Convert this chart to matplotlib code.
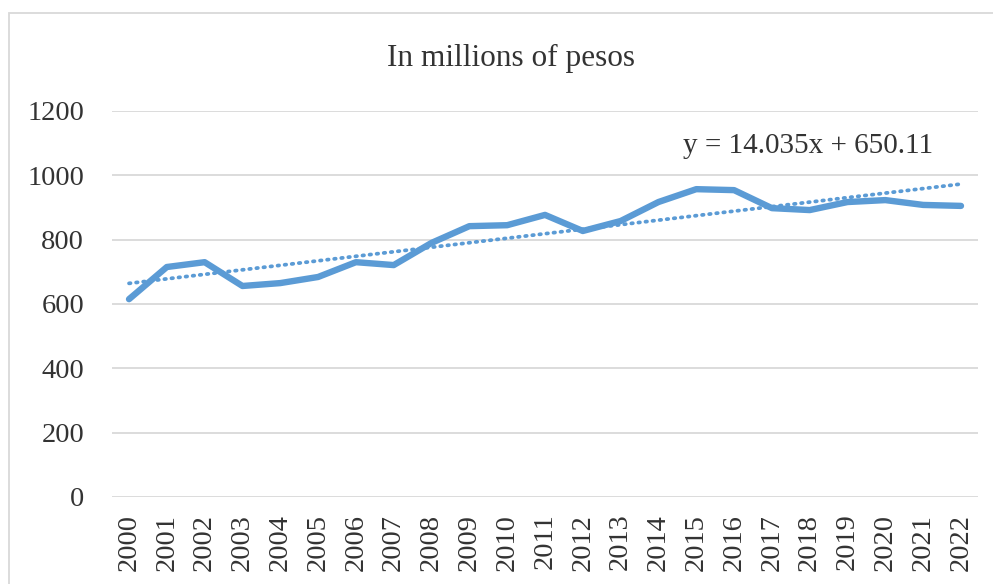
import matplotlib.pyplot as plt
import numpy as np
from matplotlib.patches import Rectangle

plt.rcParams['font.family'] = ['Liberation Serif', 'DejaVu Serif']

years = [str(y) for y in range(2000, 2023)]
values = [615, 715, 730, 656, 665, 684, 730, 721, 790, 842, 845, 877,
          827, 858, 917, 957, 954, 898, 892, 917, 923, 908, 905]
trend_slope = 14.035
trend_intercept = 650.11
title = "In millions of pesos"
yticks = [0, 200, 400, 600, 800, 1000, 1200]

BLUE = "#5B9BD5"
TXT = "#333333"

fig = plt.figure(figsize=(9.93, 5.84), dpi=100)
ax = fig.add_axes([112 / 993, 87 / 584, (978 - 112) / 993, (497 - 111) / 584])

x = np.arange(len(years))
ax.plot(x, values, color=BLUE, lw=4.6, solid_joinstyle="round", solid_capstyle="round", zorder=3)

# linear trendline as reported by the spreadsheet (x = 1..n)
xt = x + 1
ax.plot(x, trend_slope * xt + trend_intercept, color=BLUE, lw=2.7,
        linestyle=(0, (0.4, 1.5)), dash_capstyle="round", zorder=2)

ax.set_xlim(-0.45, len(years) - 0.55)
ax.set_ylim(0, 1200)
ax.set_yticks(yticks)
ax.set_xticks(x)
ax.set_xticklabels(years, rotation=90, fontsize=20.5, color=TXT)
ax.tick_params(axis="y", labelsize=20.5, labelcolor=TXT, length=0, pad=20)
ax.tick_params(axis="x", length=0, pad=12)
ax.grid(axis="y", color="#D9D9D9", lw=1.3)
ax.set_axisbelow(True)
for s in ax.spines.values():
    s.set_visible(False)

fig.text(511 / 993, 1 - 58 / 584, title, fontsize=22.5, color=TXT, ha="center", va="center")
ax.text(0.659, 0.909, f"y = {trend_slope}x + {trend_intercept}", transform=ax.transAxes,
        fontsize=21, color=TXT, ha="left", va="center")

# chart-area border (runs off the right and bottom edges)
fig.patches.append(Rectangle((9 / 993, -0.05), 1.1, (584 - 13) / 584 + 0.05,
                             transform=fig.transFigure, fill=False,
                             edgecolor="#D9D9D9", lw=1.3))

fig.savefig("out.png", dpi=100)
